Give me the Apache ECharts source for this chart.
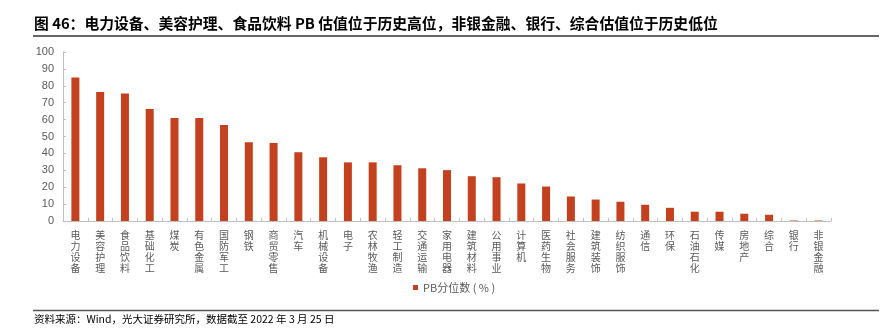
<!DOCTYPE html>
<html>
<head>
<meta charset="utf-8">
<script src="https://cdn.jsdelivr.net/npm/echarts@6/dist/echarts.min.js"></script>
<style>
html,body{margin:0;padding:0;background:#fff;}
#c{width:895px;height:336px;}
</style>
</head>
<body>
<div id="c"></div>
<script>
var categories = ['电力设备','美容护理','食品饮料','基础化工','煤炭','有色金属','国防军工','钢铁','商贸零售','汽车','机械设备','电子','农林牧渔','轻工制造','交通运输','家用电器','建筑材料','公用事业','计算机','医药生物','社会服务','建筑装饰','纺织服饰','通信','环保','石油石化','传媒','房地产','综合','银行','非银金融'];
var pbPercentile = [84.9,76.4,75.5,66.2,60.9,60.9,56.8,46.6,46.2,40.7,37.7,34.7,34.7,33.0,31.2,30.1,26.5,25.9,22.2,20.4,14.5,12.7,11.4,9.6,7.8,5.5,5.5,4.3,3.7,0.3,0.3];
var yTicks = {min:0, max:100, interval:10};
var seriesName = 'PB分位数 ( % )';
var titleText = '图 46：电力设备、美容护理、食品饮料 PB 估值位于历史高位，非银金融、银行、综合估值位于历史低位';
var sourceText = '资料来源：Wind，光大证券研究所，数据截至 2022 年 3 月 25 日';

var chart = echarts.init(document.getElementById('c'), null, {renderer:'canvas'});
var font = '"Noto Sans CJK SC","Noto Sans",sans-serif';
chart.setOption({
  animation:false,
  textStyle:{fontFamily:font},
  grid:{left:63,right:64,top:52,bottom:115,containLabel:false},
  legend:{
    data:[seriesName], left:408, top:277, itemWidth:5, itemHeight:5, itemGap:4,
    icon:'rect',
    textStyle:{fontSize:11,color:'#595959',fontFamily:font}
  },
  xAxis:{
    type:'category', data:categories,
    axisLine:{lineStyle:{color:'#BFBFBF',width:1}},
    axisTick:{show:true,inside:true,length:3,alignWithLabel:false,lineStyle:{color:'#BFBFBF'}},
    axisLabel:{
      interval:0, margin:9, color:'#595959', fontSize:10, lineHeight:10.8, fontFamily:font,
      formatter:function(v){return v.split('').join('\n');}
    }
  },
  yAxis:{
    type:'value', min:yTicks.min, max:yTicks.max, interval:yTicks.interval,
    splitLine:{show:false},
    axisLine:{show:true,lineStyle:{color:'#BFBFBF'}},
    axisTick:{show:true,inside:true,length:3,lineStyle:{color:'#BFBFBF'}},
    axisLabel:{color:'#595959',fontSize:11,margin:9,fontFamily:'"Liberation Sans",Arial,sans-serif'}
  },
  series:[{
    name:seriesName, type:'bar', data:pbPercentile, barWidth:8,
    itemStyle:{color:'#C4411F'}
  }],
  graphic:[
    {type:'text', left:34, top:16, style:{text:titleText, fill:'#000', font:'bold 14.8px "Noto Sans CJK SC",sans-serif'}},
    {type:'line', shape:{x1:33,y1:36,x2:879,y2:36}, style:{stroke:'#333',lineWidth:1.5}},
    {type:'line', shape:{x1:33,y1:310.5,x2:879,y2:310.5}, style:{stroke:'#555',lineWidth:1.5}},
    {type:'text', left:34, top:314, style:{text:sourceText, fill:'#000', font:'10.5px "Noto Sans CJK SC",sans-serif'}}
  ]
});
</script>
</body>
</html>
